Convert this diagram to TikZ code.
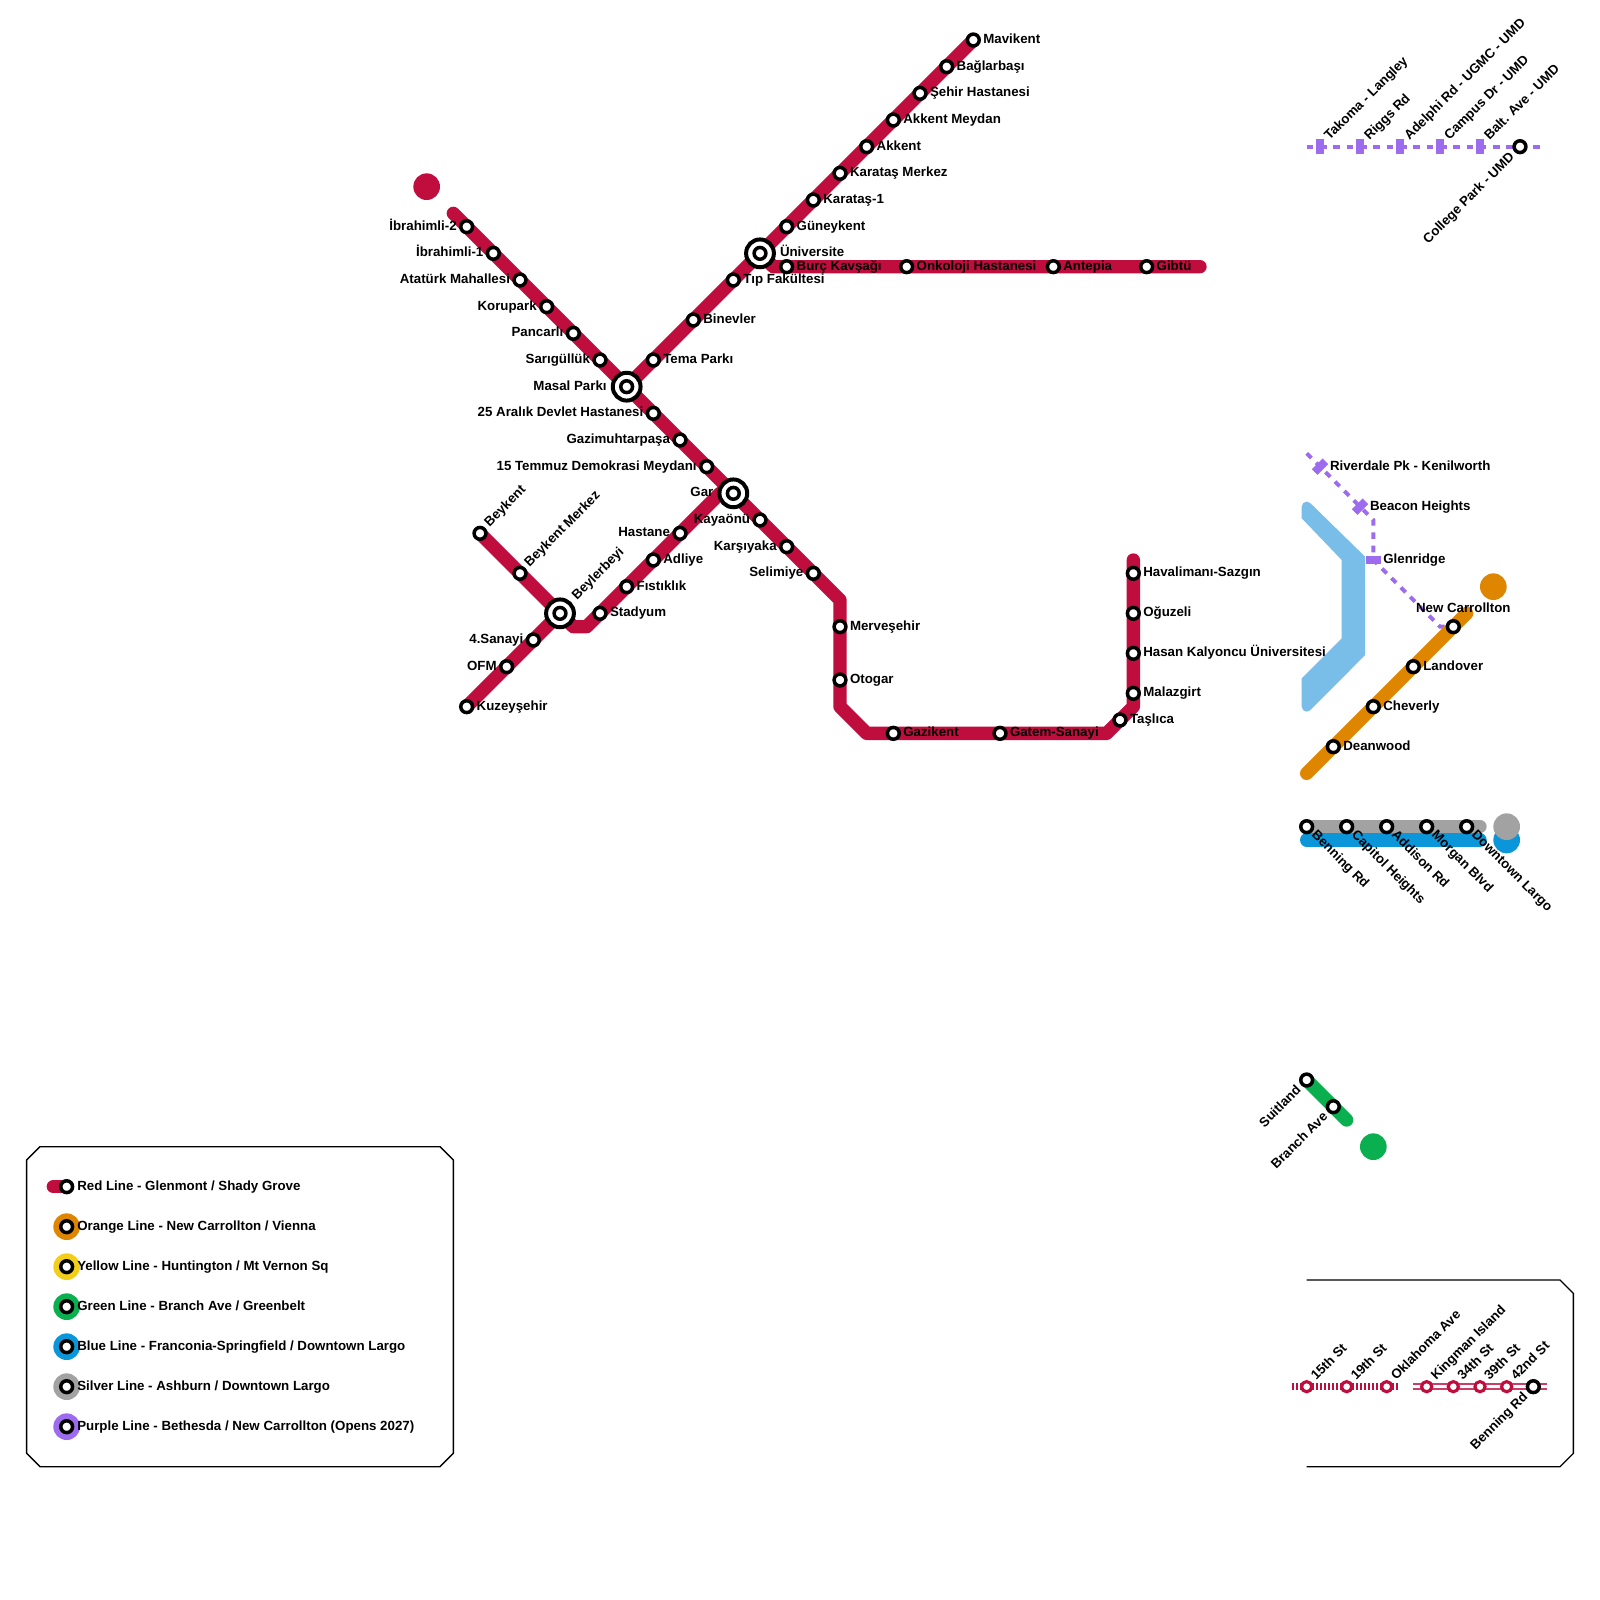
\documentclass[tikz,border=0pt]{standalone}
\usepackage{fontspec}
\setmainfont{Liberation Sans}
\usetikzlibrary{backgrounds}
\definecolor{cred}{HTML}{BF0D3E}
\definecolor{corange}{HTML}{DF8600}
\definecolor{cyellow}{HTML}{F2CE1B}
\definecolor{cgreen}{HTML}{0AB04F}
\definecolor{cblue}{HTML}{0A96D8}
\definecolor{csilver}{HTML}{A2A2A2}
\definecolor{cpurple}{HTML}{9D6BEE}
\definecolor{clight}{HTML}{79BDE9}
\tikzset{
 st/.style={circle,draw=black,fill=white,line width=1.75pt,minimum size=5.9pt,inner sep=0pt,outer sep=0pt},
 sr/.style={circle,draw=cred,fill=white,line width=1.55pt,minimum size=5.1pt,inner sep=0pt,outer sep=0pt},
 hub/.style={circle,draw=black,fill=white,line width=2pt,minimum size=13.9pt,inner sep=0pt,outer sep=0pt},
 disc/.style={circle,fill=#1,minimum size=13.33pt,inner sep=0pt,outer sep=0pt},
 tx/.style={font=\bfseries\fontsize{6.65}{8}\selectfont,text=black,inner sep=0pt,outer sep=0pt},
 lR/.style={tx,anchor=base west,xshift=5pt,yshift=-1.8pt},
 lL/.style={tx,anchor=base east,xshift=-5pt,yshift=-1.8pt},
 lUR/.style={tx,anchor=base west,xshift=4.8pt,yshift=3pt,rotate=45},
 lDR/.style={tx,anchor=base west,xshift=2.2pt,yshift=-4.6pt,rotate=-45},
 lDL/.style={tx,anchor=base east,xshift=-2.5pt,yshift=-5.5pt,rotate=45},
 lHR/.style={tx,anchor=base west,xshift=10pt,yshift=-1.8pt},
 lHL/.style={tx,anchor=base east,xshift=-10pt,yshift=-1.8pt},
 lHU/.style={tx,anchor=base west,xshift=8.5pt,yshift=6.5pt,rotate=45},
 lNC/.style={tx,anchor=base,xshift=5pt,yshift=7pt},
 lLG/.style={tx,anchor=base west,xshift=5.3pt,yshift=-1.8pt},
 track/.style={line width=6.67pt,line cap=round,line join=round,draw=#1},
 ptrack/.style={line width=2pt,draw=cpurple,dash pattern=on 3.33pt off 3.33pt},
 pmark/.style={fill=cpurple,minimum width=4pt,minimum height=7.6pt,inner sep=0pt,outer sep=0pt},
 framebox/.style={line width=0.67pt,draw=black,line join=miter},
}
\newcommand\stn[5]{\node[st] (#1) at (#2,#3) {}; \node[#4] (#1-t) at (#1) {#5};}
\newcommand\srn[5]{\node[sr] (#1) at (#2,#3) {}; \node[#4] (#1-t) at (#1) {#5};}
\newcommand\hubn[5]{\node[hub] (#1-h) at (#2,#3) {}; \node[st] (#1) at (#2,#3) {}; \node[#4] (#1-t) at (#1) {#5};}
\newcommand\pmk[6]{\node[pmark,rotate=#4] (#1) at (#2,#3) {}; \node[#5] (#1-t) at (#1) {#6};}
\begin{document}
\begin{tikzpicture}[x=6.6667pt,y=-6.6667pt]
\useasboundingbox (0,0) rectangle (120,120);
% Red line stations
\hubn{masal}{47}{29}{lHL}{Masal Parkı}
\hubn{gar}{55}{37}{lHL}{Gar}
\hubn{univ}{57}{19}{lHR}{Üniversite}
\hubn{beyb}{42}{46}{lHU}{Beylerbeyi}
\stn{ib2}{35}{17}{lL}{İbrahimli-2}
\stn{ib1}{37}{19}{lL}{İbrahimli-1}
\stn{ata}{39}{21}{lL}{Atatürk Mahallesi}
\stn{kor}{41}{23}{lL}{Korupark}
\stn{pan}{43}{25}{lL}{Pancarlı}
\stn{sar}{45}{27}{lL}{Sarıgüllük}
\stn{ar25}{49}{31}{lL}{25 Aralık Devlet Hastanesi}
\stn{gaz}{51}{33}{lL}{Gazimuhtarpaşa}
\stn{tem}{53}{35}{lL}{15 Temmuz Demokrasi Meydanı}
\stn{kay}{57}{39}{lL}{Kayaönü}
\stn{kar}{59}{41}{lL}{Karşıyaka}
\stn{sel}{61}{43}{lL}{Selimiye}
\stn{mer}{63}{47}{lR}{Merveşehir}
\stn{oto}{63}{51}{lR}{Otogar}
\stn{gzk}{67}{55}{lR}{Gazikent}
\stn{gat}{75}{55}{lR}{Gatem-Sanayi}
\stn{tas}{84}{54}{lR}{Taşlıca}
\stn{mal}{85}{52}{lR}{Malazgirt}
\stn{has}{85}{49}{lR}{Hasan Kalyoncu Üniversitesi}
\stn{ogu}{85}{46}{lR}{Oğuzeli}
\stn{hav}{85}{43}{lR}{Havalimanı-Sazgın}
\stn{kuz}{35}{53}{lR}{Kuzeyşehir}
\stn{ofm}{38}{50}{lL}{OFM}
\stn{san}{40}{48}{lL}{4.Sanayi}
\stn{bey}{36}{40}{lUR}{Beykent}
\stn{bym}{39}{43}{lUR}{Beykent Merkez}
\stn{sta}{45}{46}{lR}{Stadyum}
\stn{fis}{47}{44}{lR}{Fıstıklık}
\stn{adl}{49}{42}{lR}{Adliye}
\stn{hst}{51}{40}{lL}{Hastane}
\stn{tema}{49}{27}{lR}{Tema Parkı}
\stn{bin}{52}{24}{lR}{Binevler}
\stn{tip}{55}{21}{lR}{Tıp Fakültesi}
\stn{gun}{59}{17}{lR}{Güneykent}
\stn{ka1}{61}{15}{lR}{Karataş-1}
\stn{kam}{63}{13}{lR}{Karataş Merkez}
\stn{akk}{65}{11}{lR}{Akkent}
\stn{akm}{67}{9}{lR}{Akkent Meydan}
\stn{seh}{69}{7}{lR}{Şehir Hastanesi}
\stn{bag}{71}{5}{lR}{Bağlarbaşı}
\stn{mav}{73}{3}{lR}{Mavikent}
\stn{bur}{59}{20}{lR}{Burç Kavşağı}
\stn{onk}{68}{20}{lR}{Onkoloji Hastanesi}
\stn{ant}{79}{20}{lR}{Antepia}
\stn{gib}{86}{20}{lR}{Gibtü}
\node[disc=cred] (reddisc) at (32,14) {};
% Orange
\stn{dea}{100}{56}{lR}{Deanwood}
\stn{che}{103}{53}{lR}{Cheverly}
\stn{lan}{106}{50}{lR}{Landover}
\stn{nca}{109}{47}{lNC}{New Carrollton}
\node[disc=corange] (ordisc) at (112,44) {};
% Silver / blue
\stn{ben}{98}{62}{lDR}{Benning Rd}
\stn{cap}{101}{62}{lDR}{Capitol Heights}
\stn{add}{104}{62}{lDR}{Addison Rd}
\stn{mor}{107}{62}{lDR}{Morgan Blvd}
\stn{dow}{110}{62}{lDR}{Downtown Largo}
% Green
\stn{sui}{98}{81}{lDL}{Suitland}
\stn{bra}{100}{83}{lDL}{Branch Ave}
\node[disc=cgreen] (grdisc) at (103,86) {};
% Purple top
\pmk{tak}{99}{11}{0}{lUR}{Takoma - Langley}
\pmk{rig}{102}{11}{0}{lUR}{Riggs Rd}
\pmk{ade}{105}{11}{0}{lUR}{Adelphi Rd - UGMC - UMD}
\pmk{cam}{108}{11}{0}{lUR}{Campus Dr - UMD}
\pmk{bal}{111}{11}{0}{lUR}{Balt. Ave - UMD}
\stn{col}{114}{11}{lDL}{College Park - UMD}
% Purple mid
\pmk{riv}{99}{35}{-45}{lR}{Riverdale Pk - Kenilworth}
\pmk{bea}{102}{38}{-45}{lR}{Beacon Heights}
\pmk{gle}{103}{42}{90}{lR}{Glenridge}
% Bottom group
\srn{s15}{98}{104}{lUR}{15th St}
\srn{s19}{101}{104}{lUR}{19th St}
\srn{okl}{104}{104}{lUR}{Oklahoma Ave}
\srn{kin}{107}{104}{lUR}{Kingman Island}
\srn{s34}{109}{104}{lUR}{34th St}
\srn{s39}{111}{104}{lUR}{39th St}
\srn{s42}{113}{104}{lUR}{42nd St}
\stn{bnr}{115}{104}{lDL}{Benning Rd}
% Legend
\node[disc=corange] (d2) at (5,92) {};
\node[disc=cyellow] (d3) at (5,95) {};
\node[disc=cgreen] (d4) at (5,98) {};
\node[disc=cblue] (d5) at (5,101) {};
\node[disc=csilver] (d6) at (5,104) {};
\node[disc=cpurple] (d7) at (5,107) {};
\stn{l1}{5}{89}{lLG}{Red Line - Glenmont / Shady Grove}
\stn{l2}{5}{92}{lLG}{Orange Line - New Carrollton / Vienna}
\stn{l3}{5}{95}{lLG}{Yellow Line - Huntington / Mt Vernon Sq}
\stn{l4}{5}{98}{lLG}{Green Line - Branch Ave / Greenbelt}
\stn{l5}{5}{101}{lLG}{Blue Line - Franconia-Springfield / Downtown Largo}
\stn{l6}{5}{104}{lLG}{Silver Line - Ashburn / Downtown Largo}
\stn{l7}{5}{107}{lLG}{Purple Line - Bethesda / New Carrollton (Opens 2027)}
\begin{scope}[on background layer]
\fill[white] (0,0) rectangle (120,120);
\coordinate (r0) at (34,16);
\coordinate (r1) at (63,45);
\coordinate (r2) at (63,53);
\coordinate (r3) at (65,55);
\coordinate (r4) at (83,55);
\coordinate (r5) at (85,53);
\coordinate (r6) at (85,42);
\coordinate (r7) at (43,47);
\coordinate (r8) at (44,47);
\coordinate (r9) at (54,37);
\coordinate (r10) at (58,20);
\coordinate (r11) at (90,20);
\coordinate (o0) at (98,58);
\coordinate (o1) at (110,46);
\coordinate (s1) at (111,62);
\coordinate (b0) at (98,63);
\coordinate (b1) at (111,63);
\coordinate (g1) at (101,84);
\coordinate (p0) at (98,34);
\coordinate (p1) at (103,39);
\coordinate (p2) at (108,47);
\coordinate (p3) at (98,11);
\coordinate (p4) at (115.5,11);
\coordinate (h0) at (96.92,104);
\coordinate (h1) at (104.92,104);
\coordinate (w0) at (106,104);
\coordinate (w1) at (116,104);
\coordinate (l0) at (4,89);
% light blue shape
\fill[clight] (97.63,38.87) -- (100.63,42) -- (100.63,47.88) -- (97.63,50.88) -- (97.63,53)
  arc[start angle=180,end angle=45,radius=0.375] -- (102.38,49.13) -- (102.38,41.75) -- (98.27,37.73)
  arc[start angle=-45,end angle=-180,radius=0.375] -- cycle;
% purple
\draw[ptrack] (p3) -- (tak.center) -- (rig.center) -- (ade.center) -- (cam.center) -- (bal.center) -- (col.center) -- (p4);
\draw[ptrack] (p0) -- (riv.center) -- (bea.center) -- (p1) -- (gle.center) -- (p2) -- (nca.center);
% red
\draw[track=cred] (r0) -- (masal.center) -- (gar.center) -- (r1) -- (r2) -- (r3) -- (r4) -- (r5) -- (r6);
\draw[track=cred] (kuz.center) -- (beyb.center) -- (r7) -- (r8) -- (r9) -- (gar.center);
\draw[track=cred] (bey.center) -- (beyb.center);
\draw[track=cred] (masal.center) -- (mav.center);
\draw[track=cred] (univ.center) -- (r10) -- (r11);
% orange
\draw[track=corange] (o0) -- (o1);
% blue, silver
\draw[track=cblue] (b0) -- (b1);
\node[disc=cblue] (bldisc) at (113,63) {};
\draw[track=csilver] (ben.center) -- (s1);
\node[disc=csilver] (sidisc) at (113,62) {};
% green
\draw[track=cgreen] (sui.center) -- (g1);
% bottom group
\draw[cred,line width=3.67pt,dash pattern=on 1pt off 1pt] (h0) -- (h1);
\draw[cred!80,line width=3.6pt] (w0) -- (w1);
\draw[white,line width=1.7pt] (w0) -- (w1);
% legend red
\draw[track=cred] (l0) -- (l1.center);
% frames
\draw[framebox] (3,86) -- (33,86) -- (34,87) -- (34,109) -- (33,110) -- (3,110) -- (2,109) -- (2,87) -- cycle;
\draw[framebox] (98,96) -- (117,96) -- (118,97) -- (118,109) -- (117,110) -- (98,110);
\end{scope}
\end{tikzpicture}
\end{document}
